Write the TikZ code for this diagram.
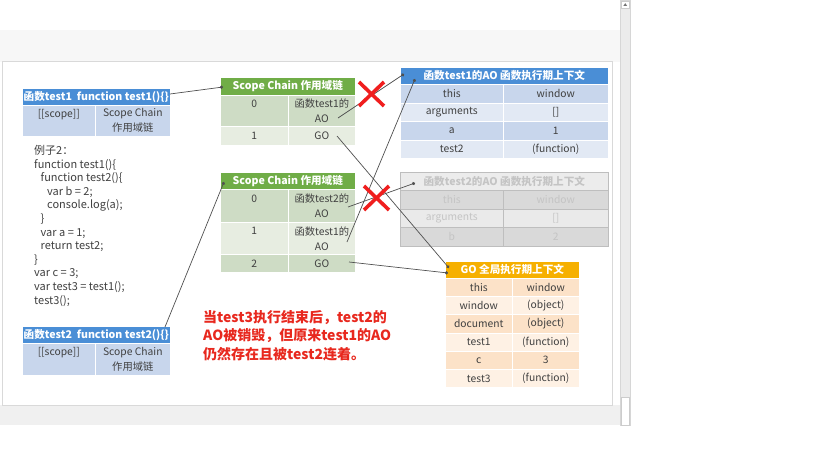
\documentclass[tikz,border=0pt]{standalone}
\usepackage{fontspec}
\setmainfont{Noto Sans CJK SC}
\usetikzlibrary{arrows.meta}
\definecolor{txt}{RGB}{64,64,64}
\definecolor{bluehd}{RGB}{74,142,214}
\definecolor{blA}{RGB}{200,214,236}
\definecolor{blB}{RGB}{226,233,244}
\definecolor{grhd}{RGB}{112,173,71}
\definecolor{grA}{RGB}{206,220,197}
\definecolor{grB}{RGB}{231,237,225}
\definecolor{orhd}{RGB}{246,176,0}
\definecolor{orA}{RGB}{252,226,200}
\definecolor{orB}{RGB}{254,241,228}
\definecolor{gyhd}{RGB}{236,236,236}
\definecolor{gyA}{RGB}{217,217,217}
\definecolor{gyB}{RGB}{234,234,234}
\definecolor{gytx}{RGB}{196,196,196}
\definecolor{gyln}{RGB}{190,190,190}
\definecolor{redtx}{RGB}{232,40,30}
\definecolor{redx}{RGB}{240,30,30}
\definecolor{conn}{RGB}{80,80,80}
\newcommand\Cell[7][]{\node[tb,fill=#2,minimum width=#5pt,minimum height=#6pt,#1] (#7) at (#3,#4)}
\begin{document}
\begin{tikzpicture}[x=1pt,y=-1pt,
  tb/.style={anchor=north west,inner sep=0pt,align=center,draw=white,line width=0.6pt,
    font=\fontsize{10.3}{15}\selectfont,text=txt},
  hd/.style={font=\fontsize{10.6}{12}\selectfont\bfseries,text=white},
  faded/.style={draw=gyln,text=gytx},
  link/.style={draw=conn,line width=0.7pt,-{Circle[length=3.2pt]}},
  xmark/.style={draw=redx,line width=3.6pt},
  codetxt/.style={anchor=north west,inner sep=0pt,align=left,text=txt,
    font=\fontsize{11}{13.6}\selectfont},
  note/.style={anchor=north west,inner sep=0pt,align=left,text=redtx,
    font=\fontsize{14}{18.5}\selectfont\bfseries}]
\useasboundingbox (0,0) rectangle (819,460);
% screen background
\fill[white] (0,0) rectangle (819,460);
\fill[black!3] (0,30) rectangle (620,62);
\fill[black!6] (0,405) rectangle (620,425);
\draw[fill=white,draw=black!15] (2,61) rectangle (612,405);
\draw[fill=black!8,draw=black!16] (620.5,0) rectangle (630,425);
\draw[fill=white,draw=black!20] (621.5,1) rectangle (629,8);
\fill[black!55] (623.3,6) -- (627.2,6) -- (625.25,3.2) -- cycle;
\draw[fill=white,draw=black!20] (621.5,397) rectangle (629,425);

% table test1
\Cell[hd]{bluehd}{22}{88}{148}{17}{t1h} {函数test1\ \ function test1()\{\}};
\Cell{blA}{22}{105}{73}{31}{t1a} {[[scope]]\\\mbox{}};
\Cell{blA}{95}{105}{75}{31}{t1b} {Scope Chain\\作用域链};

% code
\node[codetxt] (code) at (34,145) {例子2：\\
function test1()\{\\
\hspace*{6.5pt}function test2()\{\\
\hspace*{13pt}var b = 2;\\
\hspace*{13pt}console.log(a);\\
\hspace*{6.5pt}\}\\
\hspace*{6.5pt}var a = 1;\\
\hspace*{6.5pt}return test2;\\
\}\\
var c = 3;\\
var test3 = test1();\\
test3();};

% table test2
\Cell[hd]{bluehd}{22}{326}{148}{17}{t2h} {函数test2\ \ function test2()\{\}};
\Cell{blA}{22}{343}{73}{32}{t2a} {[[scope]]\\\mbox{}};
\Cell{blA}{95}{343}{75}{32}{t2b} {Scope Chain\\作用域链};

% scope chain 1
\Cell[hd]{grhd}{220}{77}{135}{18}{s1h} {Scope Chain 作用域链};
\Cell{grA}{220}{95}{68}{31}{s1r0a} {0\\\mbox{}};
\Cell{grA}{288}{95}{67}{31}{s1r0b} {函数test1的\\AO};
\Cell{grB}{220}{126}{68}{19}{s1r1a} {1};
\Cell{grB}{288}{126}{67}{19}{s1r1b} {GO};

% scope chain 2
\Cell[hd]{grhd}{220}{172}{135}{17}{s2h} {Scope Chain 作用域链};
\Cell{grA}{220}{189}{68}{33}{s2r0a} {0\\\mbox{}};
\Cell{grA}{288}{189}{67}{33}{s2r0b} {函数test2的\\AO};
\Cell{grB}{220}{222}{68}{32}{s2r1a} {1\\\mbox{}};
\Cell{grB}{288}{222}{67}{32}{s2r1b} {函数test1的\\AO};
\Cell{grA}{220}{254}{68}{18}{s2r2a} {2};
\Cell{grA}{288}{254}{67}{18}{s2r2b} {GO};

% AO of test1
\Cell[hd]{bluehd}{400}{67}{208}{17}{a1h} {函数test1的AO 函数执行期上下文};
\Cell{blA}{400}{84}{103}{18.5}{a1r1a} {this};
\Cell{blA}{503}{84}{105}{18.5}{a1r1b} {window};
\Cell{blB}{400}{102.5}{103}{18.5}{a1r2a} {arguments};
\Cell{blB}{503}{102.5}{105}{18.5}{a1r2b} {[]};
\Cell{blA}{400}{121}{103}{18.5}{a1r3a} {a};
\Cell{blA}{503}{121}{105}{18.5}{a1r3b} {1};
\Cell{blB}{400}{139.5}{103}{18.5}{a1r4a} {test2};
\Cell{blB}{503}{139.5}{105}{18.5}{a1r4b} {(function)};

% AO of test2 (destroyed)
\Cell[hd,faded]{gyhd}{400}{172}{208}{18}{a2h} {函数test2的AO 函数执行期上下文};
\Cell[faded]{gyA}{400}{190}{103}{18.5}{a2r1a} {this};
\Cell[faded]{gyA}{503}{190}{105}{18.5}{a2r1b} {window};
\Cell[faded]{gyB}{400}{208.5}{103}{18.5}{a2r2a} {arguments};
\Cell[faded]{gyB}{503}{208.5}{105}{18.5}{a2r2b} {[]};
\Cell[faded]{gyA}{400}{227}{103}{18.5}{a2r3a} {b};
\Cell[faded]{gyA}{503}{227}{105}{18.5}{a2r3b} {2};

% GO
\Cell[hd]{orhd}{445}{261}{134}{17}{goh} {GO 全局执行期上下文};
\Cell{orA}{445}{278}{67}{18.2}{g1a} {this};
\Cell{orA}{512}{278}{67}{18.2}{g1b} {window};
\Cell{orB}{445}{296.2}{67}{18.2}{g2a} {window};
\Cell{orB}{512}{296.2}{67}{18.2}{g2b} {(object)};
\Cell{orA}{445}{314.4}{67}{18.2}{g3a} {document};
\Cell{orA}{512}{314.4}{67}{18.2}{g3b} {(object)};
\Cell{orB}{445}{332.6}{67}{18.2}{g4a} {test1};
\Cell{orB}{512}{332.6}{67}{18.2}{g4b} {(function)};
\Cell{orA}{445}{350.8}{67}{18.2}{g5a} {c};
\Cell{orA}{512}{350.8}{67}{18.2}{g5b} {3};
\Cell{orB}{445}{369}{67}{18.2}{g6a} {test3};
\Cell{orB}{512}{369}{67}{18.2}{g6b} {(function)};

% note
\node[note] (note) at (203,310) {当test3执行结束后，test2的\\AO被销毁，但原来test1的AO\\仍然存在且被test2连着。};

% connector end points
\coordinate (t1out) at (170,94);
\coordinate (s1in) at (223,87);
\coordinate (s1ao) at (338,118);
\coordinate (a1inA) at (404,74);
\coordinate (a1inB) at (415,79);
\coordinate (s1go) at (337,136);
\coordinate (goinA) at (449,268);
\coordinate (goinB) at (448,273);
\coordinate (s2ao2) at (348,207);
\coordinate (a2in) at (415,183);
\coordinate (s2ao1) at (347,242);
\coordinate (s2go) at (349,262);
\coordinate (t2out) at (165,327);
\coordinate (s2in) at (224,182);

\draw[link] (t1out) -- (s1in);
\draw[link] (s1ao) -- (a1inA);
\draw[link] (s1go) -- (goinA);
\draw[link] (s2ao1) -- (a1inB);
\draw[link] (s2ao2) -- (a2in);
\draw[link] (s2go) -- (goinB);
\draw[link] (t2out) -- (s2in);

% red crosses
\draw[xmark] (359,82) -- (384,106) (384,82) -- (359,106);
\draw[xmark] (364,186) -- (389,210) (389,186) -- (364,210);
\end{tikzpicture}
\end{document}
